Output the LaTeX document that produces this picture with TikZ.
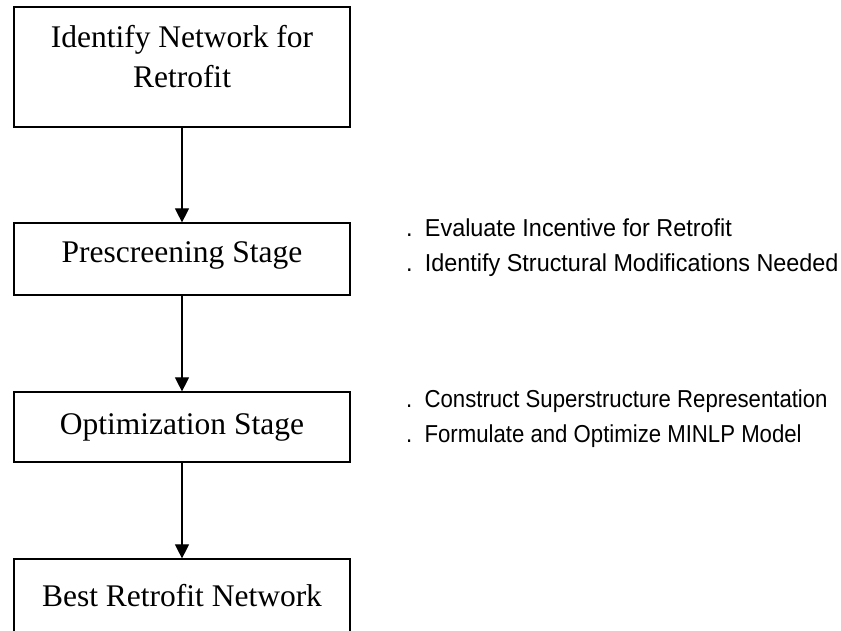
\documentclass[tikz,border=0pt]{standalone}
\usepackage{fontspec}
\setmainfont{Liberation Serif}
\newfontfamily\notefont[FakeStretch=0.955]{Liberation Sans}
\newfontfamily\narrownotefont[FakeStretch=0.905]{Liberation Sans}
\usetikzlibrary{arrows.meta}

\begin{document}
\begin{tikzpicture}[x=1pt,y=-1pt]

\tikzset{stage/.style = {shape=rectangle,draw,line width=1.2pt,minimum width=336pt,inner sep=0pt,align=center,font=\fontsize{31.5}{40}\selectfont}}
\tikzset{flow/.style = {-{Triangle[length=14pt,width=14pt]},line width=1.1pt}}
\tikzset{note/.style = {anchor=west,align=left,inner sep=0pt,font=\notefont\fontsize{24.5}{35}\selectfont}}

\useasboundingbox (0,0) rectangle (841,630);

\node[stage,minimum height=120pt,text depth=21.5pt] (identify) at (182,67) {Identify Network for\\Retrofit};
\node[stage,minimum height=72pt,text depth=13.5pt] (prescreen) at (182,259) {Prescreening Stage};
\node[stage,minimum height=70pt] (optimize) at (182,427) {Optimization Stage};
\node[stage,minimum height=76pt,text depth=4pt] (best) at (182,597) {Best Retrofit Network};

\node[note] (prenotes) at (406,248) {.\enspace Evaluate Incentive for Retrofit\\.\enspace Identify Structural Modifications Needed};
\node[note,font=\narrownotefont\fontsize{24.5}{35}\selectfont] (optnotes) at (406,419) {.\enspace Construct Superstructure Representation\\.\enspace Formulate and Optimize MINLP Model};

\draw[flow] (identify) -- (prescreen);
\draw[flow] (prescreen) -- (optimize);
\draw[flow] (optimize) -- (best);

\end{tikzpicture}
\end{document}
